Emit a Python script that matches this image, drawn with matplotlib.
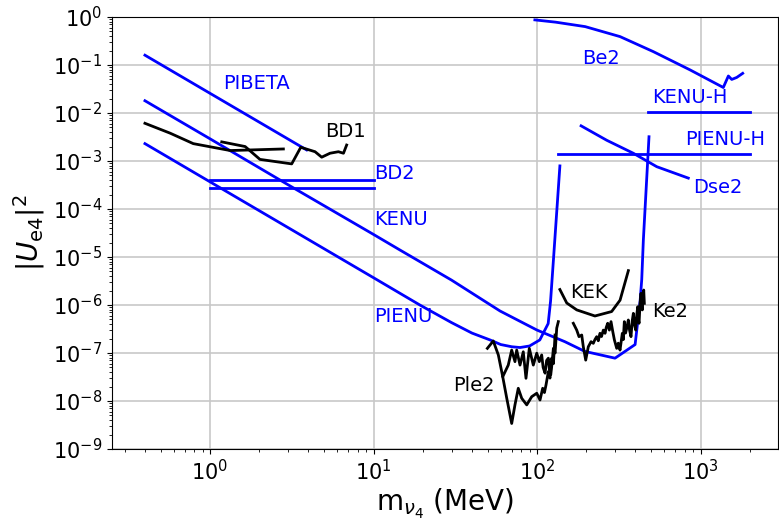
import numpy as np
import matplotlib
matplotlib.use("Agg")
import matplotlib.pyplot as plt
from matplotlib.ticker import LogLocator, NullFormatter


# -------------------------------------------------
# DATA (MeV vs |U_e4|^2)
# -------------------------------------------------
pibeta_x = [0.4, 3.9]
pibeta_y = [0.16, 1.7e-3]

kenu_x = [0.4, 1, 3, 10, 14.5, 30, 59.4, 100, 148, 196, 300, 398, 427, 437,
          447, 484]
kenu_y = [0.018, 2.9e-3, 3.2e-4, 2.95e-5, 1.4e-5, 3.3e-6, 7.5e-7, 3.0e-7,
          1.72e-7, 1.08e-7, 7.8e-8, 1.5e-7, 1.2e-6, 3.4e-6, 2.25e-5, 3.2e-3]

pienu_x = [0.4, 1, 3, 10, 19.2, 30, 40, 51.6, 60, 70, 78.7, 90, 104, 117,
           121, 126, 138]
pienu_y = [2.3e-3, 3.68e-4, 4.1e-5, 3.7e-6, 1.0e-6, 4.3e-7, 2.6e-7, 1.87e-7,
           1.5e-7, 1.35e-7, 1.3e-7, 1.4e-7, 1.87e-7, 4.1e-7, 1.2e-6, 8.7e-6,
           7.9e-4]

bd2_x = [1, 10]
bd2_upper = 4.0e-4
bd2_lower = 2.7e-4

bd1a_x = [0.4, 0.57, 0.79, 1.33, 2.81]
bd1a_y = [6.1e-3, 3.8e-3, 2.3e-3, 1.65e-3, 1.78e-3]
bd1b_x = [1.18, 1.64, 2.02, 3.16, 3.59, 4.39, 4.82, 5.42, 6.1, 6.55, 6.85]
bd1b_y = [2.5e-3, 2.0e-3, 1.08e-3, 8.7e-4, 1.93e-3, 1.56e-3, 1.2e-3,
          1.45e-3, 1.56e-3, 1.45e-3, 2.15e-3]

be2_x = [97, 130, 197, 322, 514, 863, 1378, 1480, 1552, 1665, 1811]
be2_y = [0.87, 0.78, 0.63, 0.39, 0.19, 0.079, 0.034, 0.059, 0.050, 0.055, 0.067]

kenuh_x = [480, 2000]
kenuh_y = 1.03e-2
pienuh_x = [135, 2000]
pienuh_y = 1.4e-3

dse2_x = [186, 267, 388, 540, 842]
dse2_y = [5.4e-3, 2.7e-3, 1.45e-3, 7.6e-4, 4.4e-4]

kek_x = [138, 152, 175, 226, 286, 322, 362]
kek_y = [2.1e-6, 1.1e-6, 7.9e-7, 5.9e-7, 7.3e-7, 1.26e-6, 5.2e-6]

ke2_x = [166.7, 174.9, 180.6, 187.7, 191.9, 198.5, 205.9, 214, 220.9, 226,
         231.7, 237, 242.7, 248, 254.4, 260.7, 265, 270.6, 277, 283.5, 290,
         297.3, 307.2, 314, 321.8, 332.4, 337, 342, 348, 353.7, 361.7, 368,
         375.6, 382, 388.3, 395, 401.4, 407, 413, 417, 420.7, 427, 432.7,
         437, 440.6, 445, 449.4, 453.3]
ke2_y = [4.16e-7, 3.0e-7, 2.19e-7, 2.37e-7, 1.35e-7, 7.1e-8, 1.35e-7, 1.72e-7,
         1.59e-7, 1.9e-7, 2.19e-7, 1.8e-7, 2.57e-7, 2.2e-7, 3.0e-7, 2.57e-7,
         3.4e-7, 4.16e-7, 3.0e-7, 4.5e-7, 2.9e-7, 1.87e-7, 1.25e-7, 1.6e-7,
         1.15e-7, 2.57e-7, 1.9e-7, 4.5e-7, 2.6e-7, 3.27e-7, 4.87e-7, 3.0e-7,
         2.19e-7, 4.6e-7, 6.7e-7, 3.8e-7, 3.0e-7, 6.0e-7, 9.2e-7, 5.0e-7,
         4.16e-7, 1.1e-6, 1.75e-6, 9.0e-7, 7.9e-7, 1.6e-6, 2.05e-6, 1.08e-6]

ple2a_x = [49.7, 54.0, 58.0, 61.7, 66.7, 70.0, 73.3, 75.1, 78.7, 82.4, 85.6,
           89.7, 94.9, 99.6, 103.3, 106.8, 109, 112.0, 114.5, 117.3, 119,
           121.3, 123.5, 125.9, 129, 132.0, 135.0]
ple2a_y = [1.25e-7, 1.78e-7, 9.1e-8, 3.2e-8, 5.6e-8, 1.15e-7, 6.6e-8, 1.15e-7,
           5.6e-8, 1.06e-7, 2.97e-8, 1.25e-7, 5.6e-8, 9.9e-8, 6.6e-8, 9.1e-8,
           5.0e-8, 3.8e-8, 7.0e-8, 7.8e-8, 4.5e-8, 3.5e-8, 6.0e-8, 1.25e-7,
           1.0e-7, 3.3e-7, 4.5e-7]
ple2b_x = [61.7, 65.3, 70.0, 73.3, 76.8, 80.6, 86.5, 92.8, 99.6, 104.3, 108.3,
           111, 113.5, 117.3, 120, 123.0, 126, 128.9]
ple2b_y = [3.2e-8, 1.14e-8, 3.4e-9, 8.3e-9, 1.84e-8, 1.14e-8, 8.3e-9, 1.23e-8,
           1.45e-8, 1.05e-8, 1.84e-8, 1.5e-8, 2.16e-8, 4.1e-8, 3.0e-8, 7.8e-8,
           6.0e-8, 2.37e-7]

# label text, x, y, colour
labels = [
    ("PIBETA", 1.21, 0.0416, "blue"),
    ("BD1", 5.05, 4.1e-3, "black"),
    ("BD2", 10.1, 5.5e-4, "blue"),
    ("KENU", 10.1, 5.9e-5, "blue"),
    ("PIENU", 10.1, 5.7e-7, "blue"),
    ("Ple2", 30.5, 2.1e-8, "black"),
    ("KEK", 159, 1.8e-6, "black"),
    ("Ke2", 504, 7.3e-7, "black"),
    ("Be2", 190, 0.138, "blue"),
    ("KENU-H", 504, 0.021, "blue"),
    ("PIENU-H", 804, 2.8e-3, "blue"),
    ("Dse2", 896, 2.8e-4, "blue"),
]


# -------------------------------------------------
# PLOT
# -------------------------------------------------
fig = plt.figure(figsize=(7.79, 5.21), dpi=100)
ax = fig.add_axes([0.1438, 0.1382, 0.855, 0.8292])

lw = 2.0
ax.plot(pibeta_x, pibeta_y, color="blue", lw=lw)
ax.plot(kenu_x, kenu_y, color="blue", lw=lw)
ax.plot(pienu_x, pienu_y, color="blue", lw=lw)
ax.plot(bd2_x, [bd2_upper, bd2_upper], color="blue", lw=lw)
ax.plot(bd2_x, [bd2_lower, bd2_lower], color="blue", lw=lw)
ax.plot(be2_x, be2_y, color="blue", lw=lw)
ax.plot(kenuh_x, [kenuh_y, kenuh_y], color="blue", lw=lw)
ax.plot(pienuh_x, [pienuh_y, pienuh_y], color="blue", lw=lw)
ax.plot(dse2_x, dse2_y, color="blue", lw=lw)

ax.plot(bd1a_x, bd1a_y, color="black", lw=lw)
ax.plot(bd1b_x, bd1b_y, color="black", lw=lw)
ax.plot(kek_x, kek_y, color="black", lw=lw)
ax.plot(ke2_x, ke2_y, color="black", lw=lw)
ax.plot(ple2a_x, ple2a_y, color="black", lw=lw)
ax.plot(ple2b_x, ple2b_y, color="black", lw=lw)

for txt, tx, ty, col in labels:
    ax.text(tx, ty, txt, color=col, fontsize=14, ha="left", va="center")

ax.set_xscale("log")
ax.set_yscale("log")
ax.set_xlim(0.2516, 2980)
ax.set_ylim(1e-9, 1)
ax.set_yticks([10.0**k for k in range(-9, 1)])
ax.yaxis.set_minor_locator(LogLocator(base=10, subs=np.arange(2, 10), numticks=100))
ax.yaxis.set_minor_formatter(NullFormatter())

ax.grid(True, which="major", color="#c8c8c8", lw=1.2)
ax.tick_params(axis="both", which="major", labelsize=15)

ax.set_xlabel(r"m$_{\nu_4}$ (MeV)", fontsize=20, labelpad=2)
ax.set_ylabel(r"$|U_{\rm e4}|^2$", fontsize=20)

plt.savefig("out.png", dpi=100)
